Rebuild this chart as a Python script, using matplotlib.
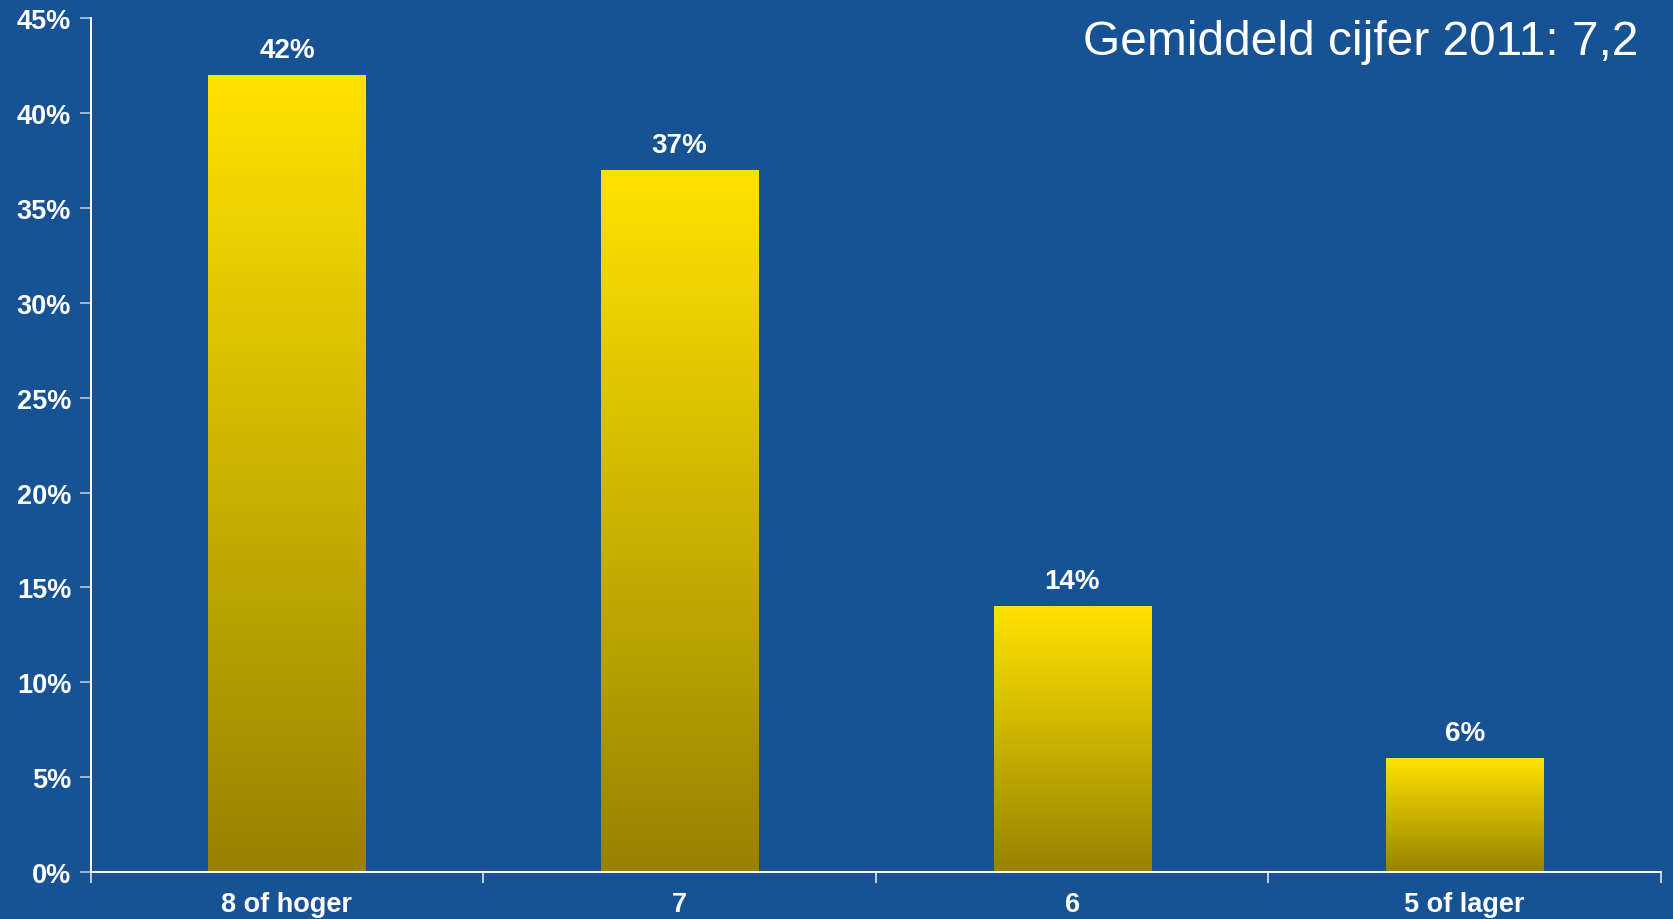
import numpy as np
import matplotlib
matplotlib.use("Agg")
import matplotlib.pyplot as plt
from matplotlib.colors import LinearSegmentedColormap
from matplotlib.ticker import FixedLocator, PercentFormatter

# Data
categories = ["8 of hoger", "7", "6", "5 of lager"]
shares = [42, 37, 14, 6]
bar_labels = ["42%", "37%", "14%", "6%"]
title_text = "Gemiddeld cijfer 2011: 7,2"

# Style
BG = "#175294"
BAR_TOP = "#FFE200"
BAR_BOTTOM = "#988200"
plt.rcParams["font.family"] = ["Liberation Sans", "DejaVu Sans"]


def make_chart():
    fig = plt.figure(figsize=(16.73, 9.2), dpi=100, facecolor=BG)
    ax = fig.add_axes([0.0542, 0.0511, 0.9386, 0.928], facecolor=BG)

    cmap = LinearSegmentedColormap.from_list("gold", [BAR_BOTTOM, BAR_TOP])
    grad = np.linspace(0, 1, 256).reshape(-1, 1)
    width = 0.4
    x = np.arange(len(categories))

    # bars drawn with a vertical gradient each
    for xi, val, lab in zip(x, shares, bar_labels):
        ax.imshow(grad, cmap=cmap, origin="lower", aspect="auto",
                  extent=[xi - width / 2, xi + width / 2, 0, val], zorder=2)
        ax.annotate(lab, (xi, val), xytext=(0, 9), textcoords="offset points",
                    ha="center", va="bottom", color="white",
                    fontsize=20, fontweight="bold")

    ax.set_xlim(-0.5, len(categories) - 0.5)
    ax.set_ylim(0, 45)

    # y axis
    ax.yaxis.set_major_locator(FixedLocator(np.arange(0, 46, 5)))
    ax.yaxis.set_major_formatter(PercentFormatter(decimals=0))
    # x axis: labels at centres, tick marks between categories
    ax.set_xticks(x)
    ax.set_xticklabels(categories)
    ax.set_xticks(np.arange(-0.5, len(categories), 1), minor=True)
    ax.tick_params(axis="x", which="major", length=0, pad=14)
    ax.tick_params(axis="x", which="minor", length=8, width=1.2,
                   color="#dde3ee", direction="out")
    ax.tick_params(axis="y", length=8, width=1.2, color="#b8c6dc", pad=6)
    ax.tick_params(labelcolor="white", labelsize=19.5)
    for t in ax.get_xticklabels() + ax.get_yticklabels():
        t.set_fontweight("bold")

    for side in ("top", "right"):
        ax.spines[side].set_visible(False)
    for side in ("left", "bottom"):
        ax.spines[side].set_color("white")
        ax.spines[side].set_linewidth(1.4)

    fig.text(0.979, 0.94, title_text, ha="right", va="baseline",
             color="white", fontsize=34.5)

    fig.savefig("out.png", dpi=100, facecolor=BG)


if __name__ == "__main__":
    make_chart()
